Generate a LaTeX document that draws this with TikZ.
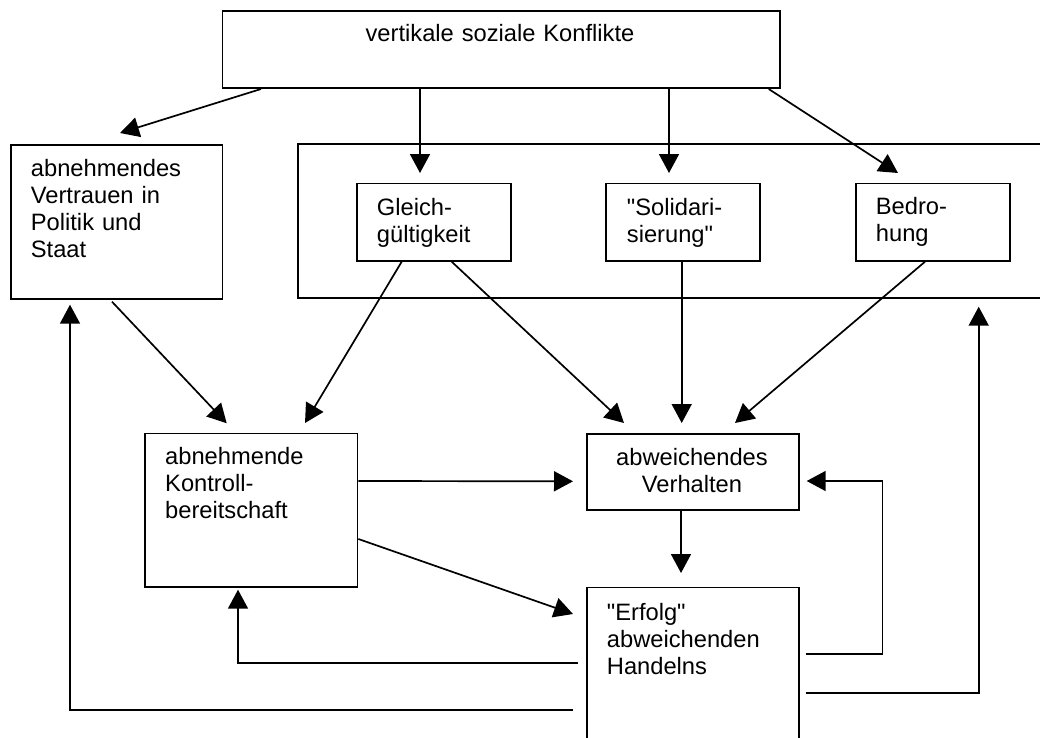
\documentclass[tikz,border=0pt]{standalone}
\usepackage{fontspec}
\newfontfamily\arialf{Liberation Sans}
\usetikzlibrary{arrows.meta,calc}
\begin{document}
\begin{tikzpicture}[x=1pt,y=-1pt,
  box/.style={draw,line width=1.7pt,inner sep=0pt,anchor=north west},
  txt/.style={inner sep=0pt,anchor=base west,text width=300pt,align=left,font=\arialf\fontsize{23.7}{27}\selectfont},
  ctxt/.style={txt,anchor=base,align=center},
  arr/.style={line width=1.7pt,-{Triangle[length=19pt,width=20pt]}},
  ln/.style={line width=1.7pt}]
\useasboundingbox[fill=white] (0,0) rectangle (1040,737);

% boxes
\node[box,minimum width=557.3pt,minimum height=77.3pt] (top) at (221.7,10) {};
\node[box,minimum width=211.7pt,minimum height=154pt] (L) at (10,144) {};
\draw[ln] (1050,144) -| (297.7,298) -- (1050,298);
\node[box,minimum width=154pt,minimum height=77.3pt] (G) at (356,182.7) {};
\node[box,minimum width=154pt,minimum height=77.3pt] (S) at (605,182.7) {};
\node[box,minimum width=154pt,minimum height=77.3pt] (B) at (855,182.7) {};
\node[box,minimum width=212.7pt,minimum height=153.3pt] (K) at (144,432.7) {};
\node[box,minimum width=212pt,minimum height=76pt] (A) at (586,433) {};
\node[box,minimum width=212pt,minimum height=180pt] (E) at (586,586.7) {};

% texts
\node[ctxt] (ttop) at (500,41.7) {vertikale soziale Konflikte};
\node[txt] (tL) at (30.7,176.7) {abnehmendes\\Vertrauen in\\Politik und\\Staat};
\node[txt] (tG) at (376.7,215) {Gleich-\\gültigkeit};
\node[txt] (tS) at (626.7,215) {"Solidari-\\sierung"};
\node[txt] (tB) at (875.7,214) {Bedro-\\hung};
\node[txt] (tK) at (165,464.3) {abnehmende\\Kontroll-\\bereitschaft};
\node[ctxt] (tA) at (692,465) {abweichendes\\Verhalten};
\node[txt] (tE) at (606.7,620) {"Erfolg"\\abweichenden\\Handelns};

% connectors
\coordinate (g1) at ($(G.north west)+(64,0)$);
\coordinate (s1) at ($(S.north west)+(64,0)$);
\draw[arr] ([xshift=39.3pt]top.south west) -- ([xshift=110pt,yshift=11pt]L.north west);
\draw[arr] (g1 |- top.south) -- ([yshift=9.7pt]g1);
\draw[arr] (s1 |- top.south) -- ([yshift=9.7pt]s1);
\draw[arr] ([xshift=-12pt]top.south east) -- ([xshift=43pt,yshift=9.7pt]B.north west);

\draw[arr] ([xshift=102pt,yshift=-2pt]L.south west) -- ([xshift=82.7pt,yshift=9.4pt]K.north west);
\draw[arr] ([xshift=45.7pt]G.south west) -- ([xshift=161pt,yshift=9.7pt]K.north west);
\draw[arr] ([xshift=95.7pt]G.south west) -- ([xshift=38pt,yshift=10pt]A.north west);
\draw[arr] ([xshift=76.7pt]S.south west) -- ([xshift=95.7pt,yshift=10pt]A.north west);
\draw[arr] ([xshift=70pt]B.south west) -- ([xshift=149pt,yshift=10pt]A.north west);

\draw[arr] ([yshift=-48.3pt]K.north east) -- ([xshift=-13pt,yshift=-48.3pt]A.north west);
\draw[arr] ([yshift=-106.3pt]K.north east) -- ([xshift=-13pt,yshift=-27.3pt]E.north west);
\draw[arr] ([xshift=95pt]A.south west) -- ([xshift=95pt,yshift=13.7pt]E.north west);

\draw[arr] ([xshift=6pt,yshift=-67.3pt]E.north east) -| ([xshift=82.7pt,yshift=-48pt]A.north east) -- ([xshift=7pt,yshift=-48pt]A.north east);
\draw[arr] ([xshift=6pt,yshift=-106pt]E.north east) -| ([xshift=-32pt,yshift=-45pt]B.south east);
\draw[arr] ([xshift=-8pt,yshift=-76.3pt]E.north west) -| ([xshift=94pt,yshift=-2pt]K.south west);
\draw[arr] ([xshift=-13pt,yshift=-123.3pt]E.north west) -| ([xshift=60pt,yshift=-5pt]L.south west);
\end{tikzpicture}
\end{document}
